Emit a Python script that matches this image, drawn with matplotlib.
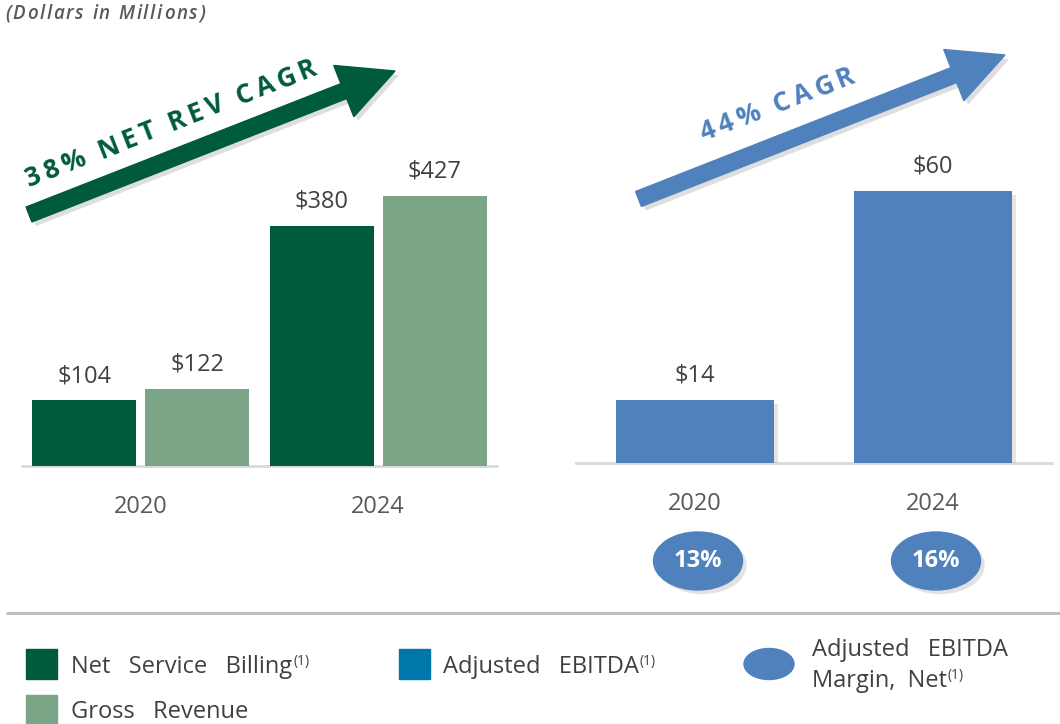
import matplotlib
matplotlib.use("Agg")
import matplotlib.pyplot as plt
from matplotlib.patches import Polygon, Ellipse, Rectangle
import matplotlib.patheffects as pe
import numpy as np

# ---------------- data ----------------
years = ["2020", "2024"]
net_service_billing = [104, 380]
gross_revenue = [122, 427]
adj_ebitda = [14, 60]
ebitda_margin = [13, 16]
net_rev_cagr_label = "38% NET REV CAGR"
ebitda_cagr_label = "44% CAGR"
legend_labels = ["Net   Service   Billing", "Gross   Revenue", "Adjusted   EBITDA",
                 "Adjusted   EBITDA", "Margin,  Net"]

DARK_GREEN = "#005A3C"
LIGHT_GREEN = "#7BA587"
BLUE = "#4F81BD"
TEAL = "#0077AA"
TXT = "#404040"
TXT2 = "#595959"

plt.rcParams['font.family'] = ['Open Sans', 'DejaVu Sans']

W, H = 1060, 724
fig = plt.figure(figsize=(W / 100, H / 100), dpi=100)


def axes_px(x0, y0, x1, y1):
    return fig.add_axes([x0 / W, 1 - y1 / H, (x1 - x0) / W, (y1 - y0) / H])


def soft_shadow(alpha=0.22):
    return [pe.SimplePatchShadow(offset=(3, -3), alpha=alpha, shadow_rgbFace="#7f7f7f"),
            pe.Normal()]


# ---------------- left panel ----------------
ax1 = axes_px(22, 140, 497, 466)
x = np.arange(len(years))
bw = 0.438
off = 0.238
ax1.bar(x - off, net_service_billing, bw, color=DARK_GREEN, zorder=3)
ax1.bar(x + off, gross_revenue, bw, color=LIGHT_GREEN, zorder=3)
ax1.set_xlim(-0.5, 1.5)
ax1.set_ylim(0, 515.6)
ax1.axhline(0, color="#D9D9D9", lw=2, zorder=2, clip_on=False)
for xi, v in zip(x - off, net_service_billing):
    ax1.annotate(f"${v}", (xi, v), xytext=(0, 13), textcoords="offset points",
                 ha="center", va="baseline", fontsize=17, color=TXT)
for xi, v in zip(x + off, gross_revenue):
    ax1.annotate(f"${v}", (xi, v), xytext=(0, 13), textcoords="offset points",
                 ha="center", va="baseline", fontsize=17, color=TXT)
for xi, yr in zip(x, years):
    ax1.annotate(yr, (xi, 0), xytext=(0, -33.5), textcoords="offset points",
                 ha="center", va="baseline", fontsize=17, color=TXT2)
ax1.axis("off")

# ---------------- right panel ----------------
ax2 = axes_px(576, 140, 1052, 463)
bars = ax2.bar(x, adj_ebitda, 0.664, color=BLUE, zorder=3)
for b in bars:
    b.set_path_effects(soft_shadow(0.2))
ax2.set_xlim(-0.5, 1.5)
ax2.set_ylim(0, 71.25)
ax2.axhline(0, color="#D9D9D9", lw=2, zorder=2, clip_on=False)
for xi, v in zip(x, adj_ebitda):
    ax2.annotate(f"${v}", (xi, v), xytext=(0, 13), textcoords="offset points",
                 ha="center", va="baseline", fontsize=17, color=TXT)
for xi, yr in zip(x, years):
    ax2.annotate(yr, (xi, 0), xytext=(0, -33.5), textcoords="offset points",
                 ha="center", va="baseline", fontsize=17, color=TXT2)
ax2.axis("off")

# ---------------- overlay (pixel coordinates) ----------------
ov = fig.add_axes([0, 0, 1, 1])
ov.set_xlim(0, W)
ov.set_ylim(H, 0)
ov.axis("off")
ov.patch.set_visible(False)

renderer = fig.canvas.get_renderer()


def arrow_poly(tail, tip, shaft_w, head_w, head_len):
    t = np.array(tail, float)
    p = np.array(tip, float)
    d = p - t
    L = np.hypot(*d)
    u = d / L
    n = np.array([-u[1], u[0]])
    base = p - u * head_len
    pts = [t + n * shaft_w / 2, base + n * shaft_w / 2, base + n * head_w / 2, p,
           base - n * head_w / 2, base - n * shaft_w / 2, t - n * shaft_w / 2]
    return np.array(pts)


for tail, tip, col in [((29, 214.5), (395, 71), DARK_GREEN),
                       ((638.5, 199), (1005, 55), BLUE)]:
    poly = Polygon(arrow_poly(tail, tip, 16, 55, 55), closed=True, color=col, zorder=5)
    poly.set_path_effects(soft_shadow(0.25))
    ov.add_patch(poly)


def spaced_text(s, start, end, size, color, weight="bold", style="normal"):
    dx, dy = end[0] - start[0], end[1] - start[1]
    L = np.hypot(dx, dy)
    ux, uy = dx / L, dy / L
    ang = np.degrees(np.arctan2(-dy, dx))

    def w(t):
        tt = ov.text(0, 0, t + "|", fontsize=size, weight=weight, style=style)
        bb = tt.get_window_extent(renderer)
        tt.remove()
        return bb.width

    bar = w("")
    prefix = [w(s[:i]) - bar for i in range(len(s) + 1)]
    track = (L - prefix[-1]) / (len(s) - 1)
    for i, ch in enumerate(s):
        if ch == " ":
            continue
        d = prefix[i] + i * track
        ov.text(start[0] + ux * d, start[1] + uy * d, ch, rotation=ang,
                rotation_mode="anchor", ha="left", va="baseline", fontsize=size,
                weight=weight, style=style, color=color, zorder=6)


spaced_text(net_rev_cagr_label, (29, 187), (318, 74), 19, DARK_GREEN)
spaced_text(ebitda_cagr_label, (703, 141), (856, 82), 19, BLUE)
spaced_text("(Dollars in Millions)", (5, 19), (205, 19), 13.5, TXT2,
            weight="semibold", style="italic")

# margin ellipses
for xi, m in zip(x, ebitda_margin):
    cx = ax2.transData.transform((xi, 0))[0]
    e = Ellipse((cx + 3, 561), 89, 58, color=BLUE, zorder=5)
    e.set_path_effects(soft_shadow(0.22))
    ov.add_patch(e)
    ov.text(cx + 3, 561, f"{m}%", ha="center", va="center", fontsize=17,
            weight="bold", color="white", zorder=6)

# separator
ov.plot([6, W], [613, 613], color="#BFBFBF", lw=2.2, solid_capstyle="butt")


def label_with_sup(xp, yb, text, sup=True):
    t = ov.text(xp, yb, text, fontsize=17, color=TXT, ha="left", va="baseline")
    if sup:
        bb = t.get_window_extent(renderer)
        ov.text(bb.x1 + 1, yb - 8, "(1)", fontsize=10, color=TXT, ha="left",
                va="baseline")


# legend
ov.add_patch(Rectangle((26, 649), 31, 30, color=DARK_GREEN))
label_with_sup(71, 673, legend_labels[0])
ov.add_patch(Rectangle((26, 695), 31, 30, color=LIGHT_GREEN))
label_with_sup(71, 718, legend_labels[1], sup=False)
ov.add_patch(Rectangle((399, 649), 31, 30, color=TEAL))
label_with_sup(443, 673, legend_labels[2])
ov.add_patch(Ellipse((769, 664), 50, 31, color=BLUE))
label_with_sup(812, 656, legend_labels[3], sup=False)
label_with_sup(812, 687, legend_labels[4])

fig.savefig("out.png", dpi=100)
